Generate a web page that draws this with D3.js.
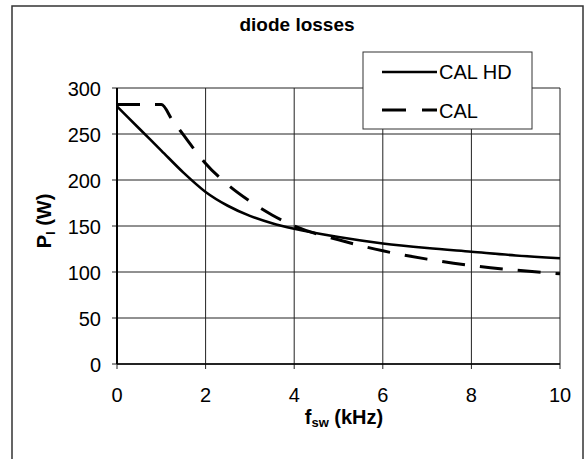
<!DOCTYPE html>
<html>
<head>
<meta charset="utf-8">
<script src="https://cdn.jsdelivr.net/npm/d3@7"></script>
<style>
  body { margin: 0; background: #fff; }
  svg { display: block; font-family: "Liberation Sans", Arial, sans-serif; }
</style>
</head>
<body>
<div id="app"></div>
<script>
// data
var xTicks = [0, 2, 4, 6, 8, 10];
var yTicks = [0, 50, 100, 150, 200, 250, 300];

var calHdX = [0, 0.5, 1, 1.5, 2, 2.5, 3, 3.5, 4, 5, 6, 7, 8, 9, 10];
var calHdY = [280, 256, 232, 208, 187, 172, 161, 153, 147, 138, 131, 126, 122, 118, 115];

var calX = [0, 1, 1.25, 1.5, 1.75, 2, 2.5, 3, 3.5, 4, 5, 6, 7, 8, 9, 10];
var calY = [282, 282, 265, 249, 233, 218, 195, 177, 162, 150, 135, 123, 114, 107, 102, 98];

var seriesNames = ["CAL HD", "CAL"];

var width = 587,
  height = 459;

var svg = d3.select("#app")
  .append("svg")
  .attr("width", width)
  .attr("height", height);

// outer frame
svg.append("rect")
  .attr("x", 12).attr("y", 6)
  .attr("width", 571).attr("height", 470)
  .attr("fill", "none")
  .attr("stroke", "#333")
  .attr("stroke-width", 1.5);

var x = d3.scaleLinear().domain([0, 10]).range([117, 560]);
var y = d3.scaleLinear().domain([0, 300]).range([364, 88]);

// grid lines
svg.append("g")
  .selectAll("line")
  .data(xTicks)
  .enter().append("line")
  .attr("x1", d => x(d)).attr("x2", d => x(d))
  .attr("y1", y(300)).attr("y2", y(0) + 5)
  .attr("stroke", "#222")
  .attr("stroke-width", 1);

svg.append("g")
  .selectAll("line")
  .data(yTicks)
  .enter().append("line")
  .attr("x1", x(0) - 5).attr("x2", x(10))
  .attr("y1", d => y(d)).attr("y2", d => y(d))
  .attr("stroke", "#222")
  .attr("stroke-width", 1);

// axis lines
svg.append("line")
  .attr("x1", x(0)).attr("x2", x(0))
  .attr("y1", y(300)).attr("y2", y(0))
  .attr("stroke", "#000").attr("stroke-width", 2);
svg.append("line")
  .attr("x1", x(0)).attr("x2", x(10))
  .attr("y1", y(0)).attr("y2", y(0))
  .attr("stroke", "#000").attr("stroke-width", 1.5);

// tick labels
svg.append("g")
  .selectAll("text")
  .data(xTicks)
  .enter().append("text")
  .attr("x", d => x(d))
  .attr("y", 402)
  .attr("text-anchor", "middle")
  .attr("font-size", 20)
  .text(d => d);

svg.append("g")
  .selectAll("text")
  .data(yTicks)
  .enter().append("text")
  .attr("x", 101)
  .attr("y", d => y(d) + 8)
  .attr("text-anchor", "end")
  .attr("font-size", 20)
  .text(d => d);

// lines
var line = d3.line()
  .x(d => x(d[0]))
  .y(d => y(d[1]))
  .curve(d3.curveMonotoneX);

svg.append("path")
  .datum(d3.zip(calHdX, calHdY))
  .attr("d", line)
  .attr("fill", "none")
  .attr("stroke", "#000")
  .attr("stroke-width", 2.6);

svg.append("path")
  .datum(d3.zip(calX, calY))
  .attr("d", line)
  .attr("fill", "none")
  .attr("stroke", "#000")
  .attr("stroke-width", 3)
  .attr("stroke-dasharray", "23,15");

// title
svg.append("text")
  .attr("x", 297).attr("y", 31)
  .attr("text-anchor", "middle")
  .attr("font-size", 19)
  .attr("font-weight", "bold")
  .text("diode losses");

// axis titles
var xt = svg.append("text")
  .attr("x", 344).attr("y", 424)
  .attr("text-anchor", "middle")
  .attr("font-size", 20)
  .attr("font-weight", "bold");
xt.append("tspan").text("f");
xt.append("tspan").attr("font-size", 13).attr("dy", 3).text("sw");
xt.append("tspan").attr("dy", -3).text(" (kHz)");

var yt = svg.append("text")
  .attr("transform", "translate(51,221) rotate(-90)")
  .attr("text-anchor", "middle")
  .attr("font-size", 20)
  .attr("font-weight", "bold");
yt.append("tspan").text("P");
yt.append("tspan").attr("font-size", 13).attr("dy", 4).text("l");
yt.append("tspan").attr("dy", -4).text(" (W)");

// legend
var legend = svg.append("g");
legend.append("rect")
  .attr("x", 363).attr("y", 52)
  .attr("width", 169).attr("height", 77)
  .attr("fill", "#fff")
  .attr("stroke", "#333")
  .attr("stroke-width", 1);

legend.append("line")
  .attr("x1", 382).attr("x2", 437)
  .attr("y1", 72).attr("y2", 72)
  .attr("stroke", "#000").attr("stroke-width", 2.6);
legend.append("line")
  .attr("x1", 382).attr("x2", 437)
  .attr("y1", 110).attr("y2", 110)
  .attr("stroke", "#000").attr("stroke-width", 3)
  .attr("stroke-dasharray", "24,16");

legend.selectAll(".lt")
  .data(seriesNames)
  .enter().append("text")
  .attr("class", "lt")
  .attr("x", 439)
  .attr("y", (d, i) => 79 + i * 39)
  .attr("font-size", 20)
  .text(d => d);
</script>
</body>
</html>
